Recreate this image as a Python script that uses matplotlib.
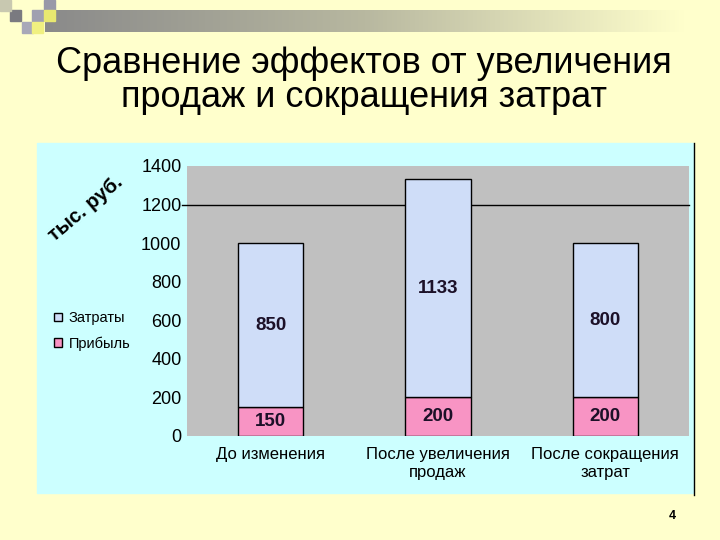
import numpy as np
import matplotlib.pyplot as plt
import matplotlib.patches as mpatches
from matplotlib.lines import Line2D
from matplotlib.colors import LinearSegmentedColormap

plt.rcParams['font.family'] = ['Liberation Sans', 'DejaVu Sans']

# data
categories = ['До изменения', 'После увеличения\nпродаж', 'После сокращения\nзатрат']
profit = [150, 200, 200]      # Прибыль
costs = [850, 1133, 800]      # Затраты
yticks = [0, 200, 400, 600, 800, 1000, 1200, 1400]

slide_bg = '#FFFFCC'
chart_bg = '#CCFFFF'
plot_bg = '#C0C0C0'
cost_col = '#CFDDF8'
profit_col = '#F894C4'
lab_col = '#1C1028'

fig = plt.figure(figsize=(7.2, 5.4), dpi=100)
fig.patch.set_facecolor(slide_bg)

# decorative header: gradient bar + checker squares
bar_ax = fig.add_axes([45/720, 1-32/540, 640/720, 22/540])
grad = np.linspace(0, 1, 256).reshape(1, -1)
cm = LinearSegmentedColormap.from_list('g', ['#8A8A8A', '#B8B8A0', slide_bg])
bar_ax.imshow(grad, aspect='auto', cmap=cm, extent=[0, 1, 0, 1])
bar_ax.axis('off')
squares = [((10, 10), '#7A7A80'), ((32, 10), '#A0A0B0'), ((44, 0), '#9898A8'),
           ((44, 10), '#E8E870'), ((22, 22), '#A8A8B8'), ((32, 22), '#F0F080'),
           ((0, 0), '#C8C8B0')]
for (px, py), c in squares:
    fig.patches.append(mpatches.Rectangle((px/720, 1-(py+11)/540), 11/720, 11/540,
                                          transform=fig.transFigure, color=c, zorder=1))

# title
fig.text(0.506, 1-73/540, 'Сравнение эффектов от увеличения', ha='center', va='baseline',
         fontsize=26, color='#000000')
fig.text(0.506, 1-107/540, 'продаж и сокращения затрат', ha='center', va='baseline',
         fontsize=26, color='#000000')

# chart area background
fig.patches.append(mpatches.Rectangle((37/720, 1-493/540), 656/720, 350/540,
                                      transform=fig.transFigure, color=chart_bg, zorder=-10))
fig.lines.append(Line2D([694/720, 694/720], [1-495/540, 1-143/540],
                        transform=fig.transFigure, color='black', lw=1, zorder=-9))

ax = fig.add_axes([187/720, 1-436/540, 502/720, 270/540])
ax.set_zorder(2)
ax.set_facecolor(plot_bg)
x = np.arange(len(categories))
w = 0.39
ax.bar(x, profit, w, color=profit_col, edgecolor='black', lw=1, zorder=3)
ax.bar(x, costs, w, bottom=profit, color=cost_col, edgecolor='black', lw=1, zorder=3)
for i in range(len(x)):
    ax.text(x[i], profit[i]/2, str(profit[i]), ha='center', va='center', fontsize=13.5,
            fontweight='bold', color=lab_col, zorder=4)
    ax.text(x[i], profit[i] + costs[i]/2, str(costs[i]), ha='center', va='center', fontsize=13.5,
            fontweight='bold', color=lab_col, zorder=4)

ax.axhline(1200, xmin=-0.01, color='black', lw=1, zorder=2, clip_on=False)
ax.set_xlim(-0.5, 2.5)
ax.set_ylim(0, 1400)
ax.set_yticks(yticks)
ax.set_xticks(x)
ax.set_xticklabels(categories, fontsize=12, linespacing=1.25)
ax.tick_params(axis='y', length=0, pad=4, labelsize=13)
ax.tick_params(axis='x', length=0, pad=8)
for s in ax.spines.values():
    s.set_visible(False)

# axis unit label
fig.text(86/720, 1-209/540, 'тыс. руб.', rotation=40, ha='center', va='center',
         fontsize=14.5, fontweight='bold')

# legend
ax.legend([mpatches.Patch(facecolor=cost_col, edgecolor='black'),
           mpatches.Patch(facecolor=profit_col, edgecolor='black')],
          ['Затраты', 'Прибыль'], loc='center left',
          bbox_to_anchor=(54/720, 1-331/540), bbox_transform=fig.transFigure,
          frameon=False, fontsize=10.5, handlelength=0.55, handleheight=0.55,
          handletextpad=0.45, labelspacing=0.78, borderpad=0, borderaxespad=0)

fig.text(672/720, 1-516/540, '4', ha='center', va='center', fontsize=9, fontweight='bold')

fig.savefig('out.png', dpi=100, facecolor=slide_bg)
